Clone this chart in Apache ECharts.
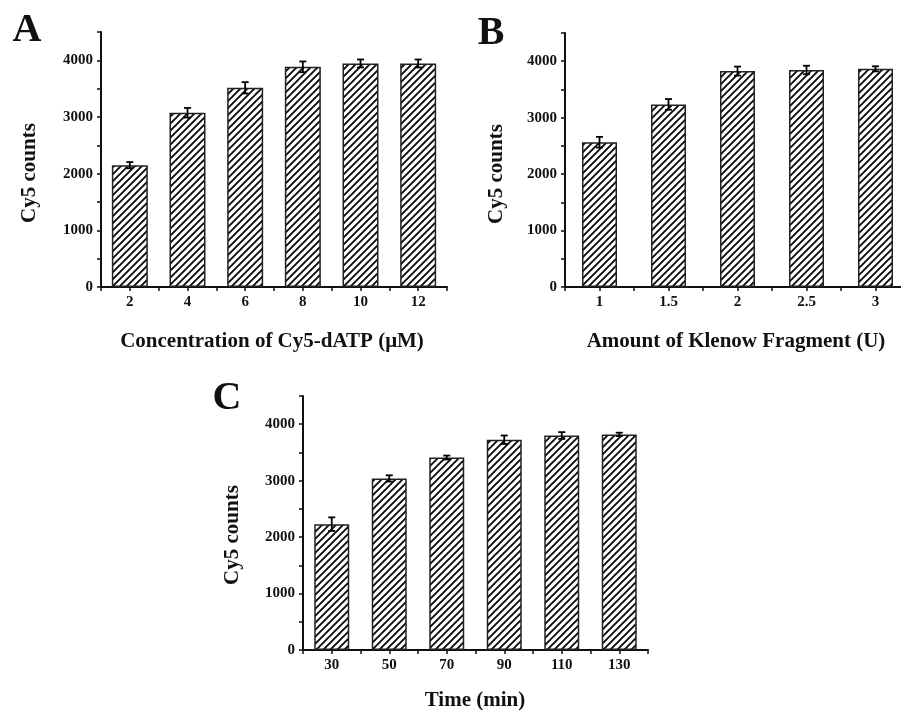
<!DOCTYPE html>
<html>
<head>
<meta charset="utf-8">
<script src="https://cdn.jsdelivr.net/npm/echarts@6/dist/echarts.min.js"></script>
<style>
html,body{margin:0;padding:0;background:#fff;}
#chart{width:901px;height:711px;}
</style>
</head>
<body>
<div id="chart"></div>
<script>
// ---- data ----
var catsA = ['2', '4', '6', '8', '10', '12'];
var valsA = [2150, 3075, 3515, 3885, 3945, 3945];
var errA  = [55, 85, 100, 95, 70, 70];

var catsB = ['1', '1.5', '2', '2.5', '3'];
var valsB = [2565, 3235, 3825, 3845, 3865];
var errB  = [95, 95, 80, 75, 45];

var catsC = ['30', '50', '70', '90', '110', '130'];
var valsC = [2230, 3040, 3410, 3725, 3800, 3820];
var errC  = [120, 55, 35, 75, 60, 30];

var yMin = 0, yMax = 4500, yStep = 500, yLabelStep = 1000;

var xTitleA = 'Concentration of Cy5-dATP (μM)';
var xTitleB = 'Amount of Klenow Fragment (U)';
var xTitleC = 'Time (min)';
var yTitle = 'Cy5 counts';

// ---- hatch pattern ----
function makeHatch() {
  var s = 7;
  var c = document.createElement('canvas');
  c.width = s; c.height = s;
  var g = c.getContext('2d');
  g.fillStyle = '#fff';
  g.fillRect(0, 0, s, s);
  g.strokeStyle = '#0a0a0a';
  g.lineWidth = 1.9;
  g.beginPath();
  g.moveTo(-1, s + 1); g.lineTo(s + 1, -1);
  g.moveTo(-1, 1); g.lineTo(1, -1);
  g.moveTo(s - 1, s + 1); g.lineTo(s + 1, s - 1);
  g.stroke();
  return c;
}
var hatch = { image: makeHatch(), repeat: 'repeat' };

var FONT = 'Liberation Serif';
var black = '#111';

function yAxisCfg(gi) {
  return {
    type: 'value', gridIndex: gi, min: yMin, max: yMax, interval: yStep,
    axisLine: { show: true, lineStyle: { color: black, width: 2 } },
    axisTick: { show: true, length: 4, lineStyle: { color: black, width: 1.5 } },
    splitLine: { show: false },
    axisLabel: {
      margin: 8, color: black, fontFamily: FONT, fontWeight: 'bold', fontSize: 15,
      formatter: function (v) { return (v % yLabelStep === 0) ? String(v) : ''; }
    }
  };
}
function xAxisMain(gi, cats) {
  return {
    type: 'category', gridIndex: gi, data: cats, position: 'bottom',
    axisLine: { show: true, onZero: false, lineStyle: { color: black, width: 2 } },
    axisTick: { show: true, alignWithLabel: true, length: 4, lineStyle: { color: black, width: 1.5 } },
    axisLabel: { margin: 8, color: black, fontFamily: FONT, fontWeight: 'bold', fontSize: 15, interval: 0 }
  };
}
function xAxisMinor(gi, cats) {
  return {
    type: 'category', gridIndex: gi, data: cats, position: 'bottom',
    axisLine: { show: false },
    axisTick: { show: true, alignWithLabel: false, interval: 0, length: 4, lineStyle: { color: black, width: 1.5 } },
    axisLabel: { show: false }
  };
}
function barSeries(xi, yi, vals, bw) {
  return {
    type: 'bar', xAxisIndex: xi, yAxisIndex: yi, data: vals, barWidth: bw,
    itemStyle: { color: hatch, borderColor: '#222', borderWidth: 1.5 },
    silent: true
  };
}
function errSeries(xi, yi, vals, errs) {
  var d = vals.map(function (v, i) { return [i, v, errs[i]]; });
  return {
    type: 'custom', xAxisIndex: xi, yAxisIndex: yi, data: d, z: 10, silent: true,
    renderItem: function (params, api) {
      var i = api.value(0), v = api.value(1), e = api.value(2);
      var hi = api.coord([i, v + e]);
      var lo = api.coord([i, v - e]);
      var hw = 3.5;
      var st = { stroke: '#000', lineWidth: 1.8 };
      return {
        type: 'group',
        children: [
          { type: 'line', shape: { x1: hi[0], y1: hi[1], x2: lo[0], y2: lo[1] }, style: st },
          { type: 'line', shape: { x1: hi[0] - hw, y1: hi[1], x2: hi[0] + hw, y2: hi[1] }, style: st },
          { type: 'line', shape: { x1: lo[0] - hw, y1: lo[1], x2: lo[0] + hw, y2: lo[1] }, style: st }
        ]
      };
    }
  };
}
function txt(t, x, y, size, rot) {
  return {
    type: 'text', x: x, y: y, rotation: rot || 0,
    style: { text: t, x: 0, y: 0, fill: black, font: 'bold ' + size + 'px "' + FONT + '"', align: 'center', verticalAlign: 'middle' }
  };
}

var chart = echarts.init(document.getElementById('chart'), null, { renderer: 'canvas' });
var option = {
  animation: false,
  backgroundColor: '#fff',
  grid: [
    { left: 101, top: 32, width: 346, height: 255, outerBoundsMode: 'none' },
    { left: 565, top: 33, width: 345, height: 254, outerBoundsMode: 'none' },
    { left: 303, top: 396, width: 345, height: 254, outerBoundsMode: 'none' }
  ],
  xAxis: [
    xAxisMain(0, catsA), xAxisMinor(0, catsA),
    xAxisMain(1, catsB), xAxisMinor(1, catsB),
    xAxisMain(2, catsC), xAxisMinor(2, catsC)
  ],
  yAxis: [yAxisCfg(0), yAxisCfg(1), yAxisCfg(2)],
  series: [
    barSeries(0, 0, valsA, 36), errSeries(0, 0, valsA, errA),
    barSeries(2, 1, valsB, 35), errSeries(2, 1, valsB, errB),
    barSeries(4, 2, valsC, 35), errSeries(4, 2, valsC, errC)
  ],
  graphic: [
    txt('A', 27, 31, 40), txt('B', 491, 34, 40), txt('C', 227, 399, 40),
    txt(yTitle, 30, 173, 21, Math.PI / 2),
    txt(yTitle, 497, 174, 21, Math.PI / 2),
    txt(yTitle, 233, 535, 21, Math.PI / 2),
    txt(xTitleA, 272, 342, 21),
    txt(xTitleB, 736, 342, 21),
    txt(xTitleC, 475, 701, 21)
  ]
};
chart.setOption(option);
</script>
</body>
</html>
